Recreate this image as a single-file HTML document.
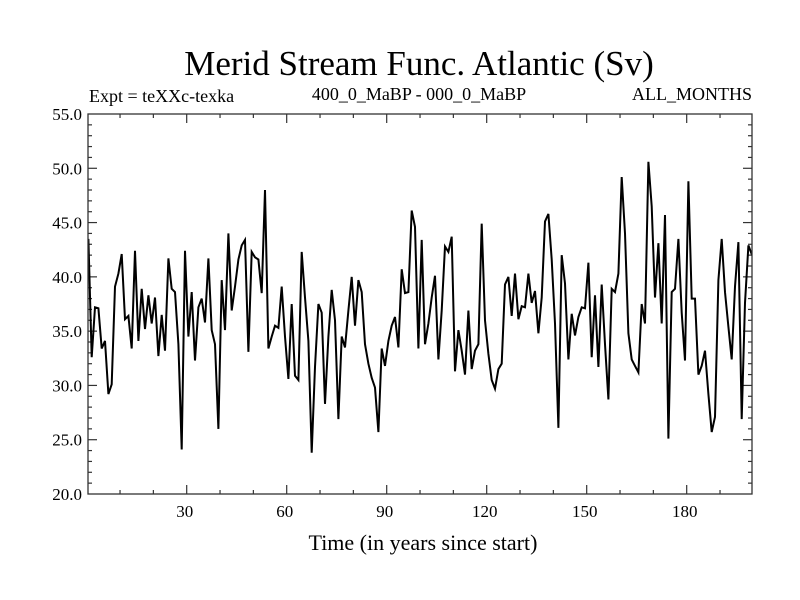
<!DOCTYPE html>
<html><head><meta charset="utf-8"><style>
html,body{margin:0;padding:0;background:#fff;}
svg{display:block;font-family:"Liberation Serif",serif;}
</style></head><body>
<svg id="chart" width="800" height="600" viewBox="0 0 800 600" xmlns="http://www.w3.org/2000/svg">
<defs><clipPath id="plotclip"><rect x="88" y="114" width="664" height="380"/></clipPath></defs>
<rect width="800" height="600" fill="#fff"/>
<text x="419" y="75" font-size="35" text-anchor="middle">Merid Stream Func. Atlantic (Sv)</text>
<text x="89" y="102" font-size="18">Expt = teXXc-texka</text>
<text x="419" y="100" font-size="18" text-anchor="middle">400_0_MaBP - 000_0_MaBP</text>
<text x="752" y="100" font-size="18" text-anchor="end">ALL_MONTHS</text>
<g id="axes"></g>
<path id="series" clip-path="url(#plotclip)" fill="none" stroke="#000" stroke-width="2" stroke-linejoin="miter"/>
<rect x="88" y="114" width="664" height="380" fill="none" stroke="#333" stroke-width="1.3"/>
<text x="423" y="550" font-size="22" text-anchor="middle">Time (in years since start)</text>
</svg>
<script>
const values = [43.5,32.6,37.2,37.1,33.4,34.1,29.2,30.1,39.1,40.3,42.1,36.1,36.4,33.4,42.4,34.1,38.9,35.2,38.3,35.7,38.1,32.7,36.5,33.2,41.7,38.9,38.6,33.8,24.1,42.4,34.5,38.6,32.3,37.2,38.0,35.8,41.7,35.1,33.8,26.0,39.7,35.1,44.0,36.9,39.1,41.6,42.9,43.4,33.1,42.3,
41.8,41.6,38.5,48.0,33.4,34.5,35.5,35.3,39.1,34.5,30.6,37.5,30.9,30.5,42.3,38.1,34.1,23.8,31.7,37.5,36.7,28.3,34.5,38.8,36.0,26.9,34.5,33.5,36.9,40.0,35.5,39.7,38.6,33.8,32.0,30.7,29.8,25.7,33.4,31.8,34.1,35.5,36.3,33.5,40.7,38.5,38.6,46.1,44.6,33.4,
43.4,33.8,35.7,38.1,40.1,32.4,36.9,42.8,42.3,43.7,31.3,35.1,33.2,31.0,36.9,31.5,33.2,33.8,44.9,36.0,32.9,30.5,29.7,31.5,32.0,39.3,40.0,36.4,40.3,36.1,37.3,37.2,40.3,37.6,38.7,34.8,38.1,45.1,45.8,41.6,35.7,26.1,42.0,39.4,32.4,36.6,34.6,36.3,37.2,37.1,
41.3,32.6,38.3,31.7,39.3,33.8,28.7,38.9,38.6,40.3,49.2,44.0,34.8,32.4,31.8,31.2,37.5,35.7,50.6,46.5,38.1,43.1,35.7,45.7,25.1,38.6,38.9,43.5,36.7,32.3,48.8,38.0,38.0,31.0,31.8,33.2,29.2,25.7,27.1,39.7,43.5,38.6,35.4,32.4,39.1,43.2,26.9,37.6,42.9,42.1,42.4];
const xMajorTicks = [30,60,90,120,150,180];
const yTickLabels = ["20.0","25.0","30.0","35.0","40.0","45.0","50.0","55.0"];
const yTickValues = [20,25,30,35,40,45,50,55];

const X0=86.7, PXY=3.3333, YB=494, YT=114, VMIN=20, VMAX=55;
function xs(t){return X0+PXY*t;}
function ys(v){return YB-(v-VMIN)/(VMAX-VMIN)*(YB-YT);}
const NS='http://www.w3.org/2000/svg';
const g=document.getElementById('axes');
function line(x1,y1,x2,y2,name){
  const l=document.createElementNS(NS,'line');
  l.setAttribute('x1',x1);l.setAttribute('y1',y1);l.setAttribute('x2',x2);l.setAttribute('y2',y2);
  l.setAttribute('stroke','#333');l.setAttribute('stroke-width','1.2');
  
  
  g.appendChild(l);
}
for(let t=10;t<200;t+=10){
  const x=xs(t); const len=(t%30===0)?9:4;
  line(x,YB,x,YB-len,'x-tick');
  line(x,YT,x,YT+len,'x-tick-top');
}
xMajorTicks.forEach(t=>{
  const tx=document.createElementNS(NS,'text');
  tx.setAttribute('x',xs(t)-2);tx.setAttribute('y',517);tx.setAttribute('font-size','17');tx.setAttribute('text-anchor','middle');
  tx.textContent=t;
  
  
  g.appendChild(tx);
});
for(let v=21;v<55;v++){
  const y=ys(v); const len=(v%5===0)?9:4;
  line(88,y,88+len,y,'y-tick');
  line(752,y,752-len,y,'y-tick-right');
}
yTickValues.forEach((v,i)=>{
  const tx=document.createElementNS(NS,'text');
  tx.setAttribute('x',82);tx.setAttribute('y',ys(v)+6);tx.setAttribute('font-size','17');tx.setAttribute('text-anchor','end');
  tx.textContent=yTickLabels[i];
  
  
  g.appendChild(tx);
});
let d='';
values.forEach((v,i)=>{d+=(i?'L':'M')+xs(i+0.5).toFixed(1)+','+ys(v).toFixed(1);});
document.getElementById('series').setAttribute('d',d);
</script>
</body></html>
